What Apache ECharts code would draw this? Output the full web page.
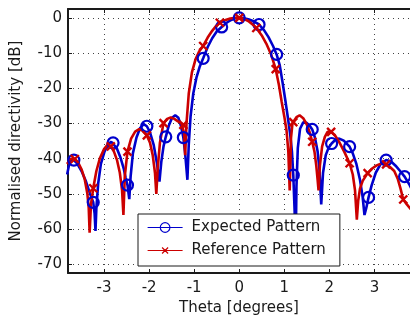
<!DOCTYPE html>
<html>
<head>
<meta charset="utf-8">
<script src="https://cdn.jsdelivr.net/npm/echarts@6/dist/echarts.min.js"></script>
<style>
  html, body { margin: 0; padding: 0; background: #fff; }
  #chart { width: 410px; height: 321px; }
</style>
</head>
<body>
<div id="chart"></div>
<script>
// Tick positions
const xTicks = [-3, -2, -1, 0, 1, 2, 3];
const yTicks = [-70, -60, -50, -40, -30, -20, -10, 0];

// Expected pattern: angle (degrees) and normalised directivity (dB)
const expTheta = [
  -3.82, -3.78, -3.72, -3.67, -3.60, -3.50, -3.40, -3.31, -3.24, -3.21, -3.19, -3.17, -3.13, -3.07, -2.99,
  -2.90, -2.84, -2.80, -2.72, -2.64, -2.56, -2.52, -2.48, -2.44, -2.41, -2.36, -2.28, -2.20, -2.12, -2.08,
  -2.05, -1.98, -1.90, -1.83, -1.77, -1.73, -1.68, -1.63, -1.56, -1.49, -1.42, -1.35, -1.29, -1.24, -1.20,
  -1.15, -1.12, -1.08, -1.02, -0.95, -0.88, -0.80, -0.70, -0.60, -0.50, -0.39, -0.28, -0.18, -0.09, 0,
  0.10, 0.20, 0.32, 0.44, 0.55, 0.65, 0.75, 0.83, 0.90, 0.97, 1.03, 1.08, 1.13, 1.17, 1.20,
  1.23, 1.25, 1.27, 1.30, 1.35, 1.42, 1.49, 1.56, 1.62, 1.68, 1.74, 1.78, 1.82, 1.86, 1.92,
  1.98, 2.05, 2.13, 2.22, 2.32, 2.39, 2.45, 2.52, 2.60, 2.68, 2.74, 2.78, 2.82, 2.87, 2.94,
  3.03, 3.14, 3.26, 3.37, 3.47, 3.57, 3.67, 3.77, 3.82
];
const expDb = [
  -44.5, -42.0, -40.3, -40.4, -41.3, -43.5, -46.5, -50.0, -52.4, -55.5, -60.5, -54.0, -47.0, -41.5, -38.0,
  -35.8, -35.2, -35.5, -37.0, -39.5, -43.0, -45.5, -47.5, -51.5, -45.0, -38.5, -34.0, -31.3, -30.2, -30.1,
  -30.8, -32.5, -36.0, -41.0, -46.5, -41.0, -36.5, -33.8, -30.5, -28.4, -27.7, -28.4, -30.8, -34.0, -38.5,
  -46.0, -36.0, -28.0, -21.5, -17.0, -14.0, -11.5, -8.3, -5.8, -3.9, -2.6, -1.4, -0.6, -0.15, 0,
  -0.1, -0.4, -1.0, -1.9, -3.5, -5.5, -8.0, -10.4, -13.5, -19.0, -24.0, -28.4, -33.0, -38.0, -44.7,
  -55.0, -68.0, -48.0, -37.0, -31.5, -29.7, -29.8, -30.6, -31.7, -34.0, -38.0, -43.0, -53.0, -44.0, -39.0,
  -37.0, -35.7, -34.7, -34.3, -34.9, -35.8, -36.6, -38.5, -41.5, -46.0, -51.0, -56.0, -54.0, -51.0, -47.5,
  -44.0, -41.5, -40.4, -40.8, -42.0, -43.5, -45.1, -47.2, -48.5
];
const expMarkTheta = [-3.67, -3.24, -2.80, -2.48, -2.05, -1.63, -1.24, -0.80, -0.39, 0, 0.44, 0.83, 1.20, 1.62, 2.05, 2.45, 2.87, 3.26, 3.67];

// Reference pattern
const refTheta = [
  -3.82, -3.76, -3.70, -3.65, -3.58, -3.50, -3.43, -3.37, -3.34, -3.32, -3.29, -3.24, -3.17, -3.09, -3.00,
  -2.92, -2.85, -2.78, -2.71, -2.65, -2.60, -2.57, -2.54, -2.48, -2.40, -2.31, -2.22, -2.13, -2.05, -1.98,
  -1.92, -1.87, -1.84, -1.81, -1.76, -1.68, -1.60, -1.52, -1.44, -1.36, -1.28, -1.24, -1.22, -1.20, -1.17,
  -1.12, -1.05, -0.97, -0.89, -0.80, -0.70, -0.60, -0.52, -0.43, -0.32, -0.20, -0.08, 0, 0.10, 0.20,
  0.29, 0.38, 0.50, 0.60, 0.71, 0.81, 0.88, 0.94, 1.00, 1.05, 1.09, 1.12, 1.15, 1.18, 1.20,
  1.27, 1.34, 1.42, 1.50, 1.57, 1.62, 1.67, 1.71, 1.74, 1.76, 1.79, 1.84, 1.90, 1.96, 2.04,
  2.12, 2.22, 2.33, 2.45, 2.52, 2.57, 2.61, 2.64, 2.68, 2.74, 2.85, 2.95, 3.05, 3.17, 3.26,
  3.34, 3.44, 3.52, 3.58, 3.64, 3.72, 3.82
];
const refDb = [
  -41.5, -40.3, -39.9, -40.1, -41.0, -43.0, -45.8, -50.0, -54.0, -61.0, -53.0, -48.4, -43.5, -39.8, -37.3,
  -36.0, -36.5, -38.0, -40.5, -44.0, -49.0, -56.0, -45.0, -38.0, -34.3, -32.3, -31.6, -32.2, -33.4, -35.5,
  -39.0, -44.0, -50.0, -43.0, -35.5, -29.9, -28.7, -28.3, -28.7, -29.4, -30.0, -30.4, -33.0, -39.0, -30.0,
  -21.5, -15.5, -11.8, -9.6, -8.0, -5.6, -3.7, -2.4, -1.4, -0.7, -0.2, 0, 0, -0.3, -0.9,
  -1.8, -2.9, -5.0, -7.3, -10.5, -14.6, -19.0, -23.7, -28.0, -32.0, -38.0, -49.0, -34.0, -30.2, -29.6,
  -28.2, -27.7, -28.5, -30.3, -32.8, -35.2, -38.0, -42.0, -46.0, -49.0, -42.0, -36.5, -33.8, -32.4, -32.4,
  -33.3, -35.3, -38.0, -41.3, -44.5, -49.0, -57.3, -52.0, -48.5, -46.3, -44.1, -42.8, -41.9, -41.3, -41.6,
  -42.3, -43.5, -45.8, -48.5, -51.6, -53.0, -54.5
];
const refMarkTheta = [-3.65, -3.24, -2.85, -2.48, -2.05, -1.68, -1.24, -0.80, -0.43, 0, 0.38, 0.81, 1.20, 1.62, 2.04, 2.45, 2.85, 3.26, 3.64];

const BLUE = '#0000cc';
const RED = '#cc0000';
const INK = '#1a1a1a';
const FONT = 'DejaVu Sans';

// Curve points; only the listed angles carry a marker
function curve(theta, db, marks) {
  return theta.map((t, i) => marks.includes(t)
    ? { value: [t, db[i]] }
    : { value: [t, db[i]], symbol: 'none' });
}

const gridLine = { show: true, lineStyle: { color: '#444', width: 1, type: [1, 4] } };
const frameLine = { show: true, onZero: false, lineStyle: { color: INK, width: 2 } };
const labelText = { fontFamily: FONT, fontSize: 15, color: INK };

// Legend key for the reference series: a line with a small cross in the middle
const refKey = 'path://M0,6L35,6M14.5,3L20.5,9M14.5,9L20.5,3M0,0M35,12';

const chart = echarts.init(document.getElementById('chart'), null, { renderer: 'canvas' });
chart.setOption({
  animation: false,
  backgroundColor: '#fff',
  grid: { left: 68, top: 9, width: 343, height: 267, containLabel: false },
  xAxis: [
    {
      type: 'value', min: -3.8, max: 3.79, position: 'bottom',
      axisLine: frameLine,
      axisTick: { show: true, inside: true, length: 4, customValues: xTicks, lineStyle: { color: INK } },
      axisLabel: Object.assign({ customValues: xTicks, margin: 8 }, labelText),
      splitLine: gridLine,
      name: 'Theta [degrees]', nameLocation: 'middle', nameGap: 25,
      nameTextStyle: labelText
    },
    {
      type: 'value', min: -3.8, max: 3.79, position: 'top',
      axisLine: frameLine,
      axisTick: { show: true, inside: true, length: 4, customValues: xTicks, lineStyle: { color: INK } },
      axisLabel: { show: false },
      splitLine: { show: false }
    }
  ],
  yAxis: {
    type: 'value', min: -72.5, max: 2.5,
    axisLine: frameLine,
    axisTick: { show: true, inside: true, length: 4, customValues: yTicks, lineStyle: { color: INK } },
    axisLabel: Object.assign({ customValues: yTicks, margin: 6 }, labelText),
    splitLine: gridLine,
    name: 'Normalised directivity [dB]', nameLocation: 'middle', nameGap: 44, nameRotate: 90,
    nameTextStyle: labelText
  },
  legend: {
    orient: 'vertical', left: 138, top: 214,
    z: 10,
    padding: [6, 14, 8, 9],
    itemGap: 8, itemWidth: 35, itemHeight: 12,
    backgroundColor: '#fff', borderColor: INK, borderWidth: 1, borderRadius: 0,
    textStyle: { fontFamily: FONT, fontSize: 15, color: INK, padding: [0, 0, 0, 4] },
    lineStyle: { width: 1.2 },
    itemStyle: { borderWidth: 1.2 },
    data: [
      { name: 'Expected Pattern' },
      { name: 'Reference Pattern', icon: refKey, itemStyle: { color: 'rgba(0,0,0,0)', borderColor: RED, borderWidth: 1.2 } }
    ]
  },
  series: [
    {
      name: 'Expected Pattern', type: 'line', xAxisIndex: 0,
      data: curve(expTheta, expDb, expMarkTheta),
      symbol: 'circle', symbolSize: 11, showSymbol: true, showAllSymbol: true,
      lineStyle: { color: BLUE, width: 2.6 },
      itemStyle: { color: 'rgba(0,0,0,0)', borderColor: BLUE, borderWidth: 2.2 },
      emphasis: { disabled: true }
    },
    {
      name: 'Reference Pattern', type: 'line', xAxisIndex: 0,
      data: curve(refTheta, refDb, refMarkTheta),
      symbol: 'path://M0,0L10,10M0,10L10,0', symbolSize: 8, showSymbol: true, showAllSymbol: true,
      lineStyle: { color: RED, width: 2.6 },
      itemStyle: { color: 'rgba(0,0,0,0)', borderColor: RED, borderWidth: 2.4 },
      emphasis: { disabled: true }
    }
  ]
});
</script>
</body>
</html>
